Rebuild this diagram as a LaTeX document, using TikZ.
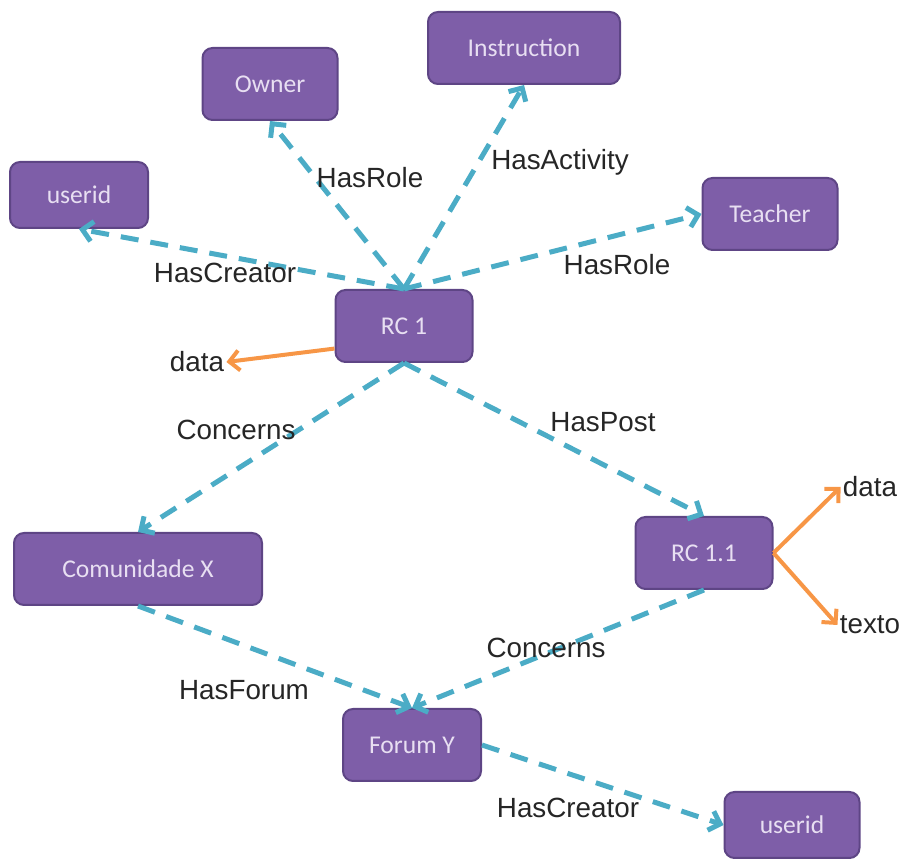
\documentclass[tikz,border=0pt]{standalone}
\usepackage{fontspec}
\setmainfont{Liberation Sans}
\newfontfamily\boxfont{Carlito}
\usetikzlibrary{arrows.meta}
\definecolor{boxfill}{HTML}{7E5EA8}
\definecolor{boxline}{HTML}{5E4585}
\definecolor{boxtext}{HTML}{E8DFF2}
\definecolor{relcyan}{HTML}{4BACC6}
\definecolor{attrorange}{HTML}{F79646}
\begin{document}
\begin{tikzpicture}[x=0.5pt,y=-0.5pt,
  entity/.style={draw=boxline, fill=boxfill, rounded corners=5pt, line width=1pt,
    text=boxtext, font=\boxfont\fontsize{12.8}{14}\selectfont,
    minimum height=36pt, inner sep=0pt},
  rel/.style={draw=relcyan, line width=2.5pt, dash pattern=on 9pt off 6pt,
    -{Straight Barb[length=5pt,width=10pt,line width=2.5pt]}},
  attr/.style={draw=attrorange, line width=2pt,
    -{Straight Barb[length=5pt,width=10pt,line width=2pt]}},
  lbl/.style={font=\fontsize{13.9}{16}\selectfont, inner sep=1pt, text=black!85}]
\useasboundingbox (0,0) rectangle (912,860);

% entities
\node[entity, minimum width=67.5pt] (owner)   at (270,84)  {Owner};
\node[entity, minimum width=96pt]   (instr)   at (524,48)  {Instruction};
\node[entity, minimum width=69pt, minimum height=33pt] (uid1) at (79,195) {userid};
\node[entity, minimum width=67.5pt] (teacher) at (770,214) {Teacher};
\node[entity, minimum width=68.5pt] (rc1)     at (404,326) {RC 1};
\node[entity, minimum width=124pt]  (comx)    at (138,569) {Comunidade X};
\node[entity, minimum width=68.5pt] (rc11)    at (704,553) {RC 1.1};
\node[entity, minimum width=69pt]   (forum)   at (412,745) {Forum Y};
\node[entity, minimum width=67.5pt, minimum height=33pt] (uid2) at (792,825) {userid};

% attribute values
\node[lbl] (data1) at (197,362) {data};
\node[lbl] (data2) at (870,487) {data};
\node[lbl] (texto) at (870,625) {texto};

% relations
\draw[rel] (rc1.north) -- (uid1.south);
\draw[rel] (rc1.north) -- (owner.south);
\draw[rel] (rc1.north) -- (instr.south);
\draw[rel] (rc1.north) -- (teacher.west);
\draw[rel] (rc1.south) -- (comx.north);
\draw[rel] (rc1.south) -- (rc11.north);
\draw[rel] (comx.south) -- (forum.north);
\draw[rel] (rc11.south) -- (forum.north);
\draw[rel] (forum.east) -- (uid2.west);

% attributes
\draw[attr] (rc1.198) -- (data1.east);
\draw[attr] (rc11.east) -- (data2.west);
\draw[attr] (rc11.east) -- (texto.west);

% relation labels
\node[lbl] (l1) at (225,273) {HasCreator};
\node[lbl] (l2) at (370,178) {HasRole};
\node[lbl] (l3) at (560,162) {HasActivity};
\node[lbl] (l4) at (617,265) {HasRole};
\node[lbl] (l5) at (236,430) {Concerns};
\node[lbl] (l6) at (603,422) {HasPost};
\node[lbl] (l7) at (546,648) {Concerns};
\node[lbl] (l8) at (244,690) {HasForum};
\node[lbl] (l9) at (568,808) {HasCreator};
\end{tikzpicture}
\end{document}
